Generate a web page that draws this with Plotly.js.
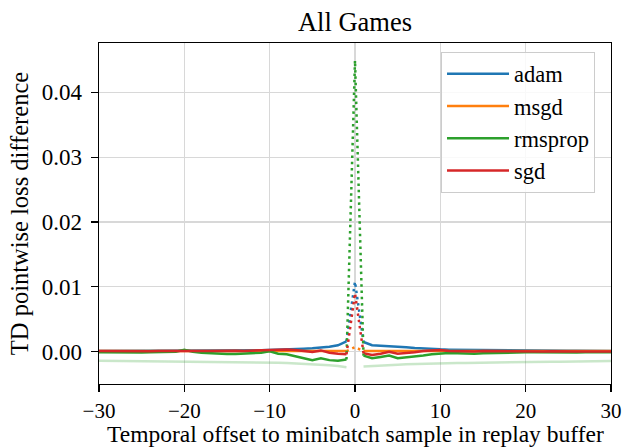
<!DOCTYPE html>
<html>
<head>
<meta charset="utf-8">
<script src="https://cdn.plot.ly/plotly-3.0.1.min.js"></script>
<style>
  html, body { margin: 0; padding: 0; background: #fff; }
  #chart { width: 624px; height: 448px; }
</style>
</head>
<body>
<div id="chart"></div>
<script>
// Temporal offsets to the minibatch sample (-30 .. 30)
const offsets = [
  -30,-29,-28,-27,-26,-25,-24,-23,-22,-21,
  -20,-19,-18,-17,-16,-15,-14,-13,-12,-11,
  -10,-9,-8,-7,-6,-5,-4,-3,-2,-1,
  0,
  1,2,3,4,5,6,7,8,9,10,
  11,12,13,14,15,16,17,18,19,20,
  21,22,23,24,25,26,27,28,29,30
];

const optimizerNames = ["adam", "msgd", "rmsprop", "sgd"];

const adam = [
  0.00012,0.00012,0.00013,0.00013,0.00014,0.00014,0.00015,0.00015,0.00016,0.00016,
  0.00017,0.00018,0.00018,0.00019,0.0002,0.0002,0.00021,0.00022,0.00023,0.00024,
  0.00026,0.00029,0.00033,0.00038,0.00045,0.00052,0.00062,0.00075,0.00098,0.0016,
  0.0108,
  0.0015,0.001,0.0009,0.00085,0.00077,0.00067,0.00057,0.00047,0.0004,0.00036,
  0.00032,0.0003,0.00028,0.00026,0.00024,0.00022,0.0002,0.00019,0.00018,0.00017,
  0.00016,0.00016,0.00015,0.00015,0.00014,0.00014,0.00013,0.00013,0.00012,0.00012
];

const msgd = [
  0.0001,0.00009,0.0001,0.00011,0.0001,0.00009,0.0001,0.00011,0.0001,0.0001,
  0.00011,0.0001,0.00009,0.0001,0.00011,0.0001,0.0001,0.00009,0.0001,0.00011,
  0.0001,0.00011,0.00012,0.0001,0.00011,0.00012,0.0001,0.00011,0.0001,0.0001,
  0.0007,
  0.0001,0.00011,0.0001,0.00012,0.00011,0.0001,0.00011,0.0001,0.00009,0.0001,
  0.00011,0.0001,0.00009,0.0001,0.0001,0.00011,0.0001,0.00009,0.0001,0.0001,
  0.00011,0.0001,0.0001,0.00009,0.0001,0.00011,0.0001,0.0001,0.00009,0.0001
];

const rmsprop = [
  -0.0001,-0.00012,-0.0001,-0.00008,-0.0001,-0.00012,-0.0001,-0.00008,-0.00005,0.0,
  0.0003,0.0,-0.00015,-0.00025,-0.0003,-0.00035,-0.00035,-0.0003,-0.00025,-0.00015,
  0.00005,-0.0003,-0.0004,-0.00065,-0.001,-0.0013,-0.001,-0.0013,-0.0014,-0.0012,
  0.0449,
  -0.0006,-0.001,-0.0008,-0.0006,-0.001,-0.0009,-0.0008,-0.0006,-0.0004,-0.00025,
  -0.0002,-0.00025,-0.0003,-0.0003,-0.00025,-0.0002,-0.00015,-0.0001,-0.00012,-0.0001,
  -0.0001,-0.00012,-0.0001,-0.00008,-0.0001,-0.00012,-0.0001,-0.00008,-0.0001,-0.0001
];

const sgd = [
  0.0001,0.00008,0.00006,0.0001,0.00012,0.0001,0.00008,0.0001,0.00012,0.0001,
  0.00012,0.00015,0.00012,0.0001,0.00015,0.00018,0.00015,0.00012,0.00015,0.00018,
  0.0002,0.00025,0.00035,0.00025,0.0001,-0.00005,0.0002,-0.00015,-0.0003,-0.0004,
  0.009,
  -0.00025,-0.0005,-0.0003,0.0,-0.0003,-0.00025,-0.0001,0.0001,0.0002,0.00025,
  0.0001,0.00005,0.0,0.00005,0.0001,0.00008,0.00005,0.0001,0.00012,0.0001,
  0.00008,0.00005,0.00008,0.0001,0.00008,0.00005,0.00003,0.00005,0.00006,0.00005
];

// Faded rmsprop baseline (no value at offset 0)
const rmspropBaseline = [
  -0.0014,-0.00141,-0.00143,-0.00143,-0.00145,-0.00146,-0.00146,-0.00148,-0.00149,-0.0015,
  -0.0015,-0.00152,-0.00153,-0.00154,-0.00154,-0.00156,-0.00157,-0.00158,-0.0016,-0.00162,
  -0.00165,-0.0017,-0.00175,-0.0018,-0.00186,-0.0019,-0.002,-0.0021,-0.0022,-0.0024,
  null,
  -0.0023,-0.0022,-0.0021,-0.00205,-0.002,-0.00195,-0.0019,-0.00187,-0.00183,-0.0018,
  -0.00178,-0.00175,-0.00173,-0.0017,-0.00168,-0.00166,-0.00165,-0.00163,-0.00161,-0.0016,
  -0.00158,-0.00157,-0.00155,-0.00153,-0.00151,-0.0015,-0.00148,-0.00146,-0.00144,-0.00142
];

const seriesValues = [adam, msgd, rmsprop, sgd];
const seriesColors = ["#1f77b4", "#ff7f0e", "#2ca02c", "#d62728"];

const FONT = "Liberation Serif";
const LW = 2.5;

// Solid part: every offset except 0; dotted part: offsets -1, 0, 1
function solidPart(vals) {
  return vals.map((v, i) => offsets[i] === 0 ? null : v);
}
function centerIdx() {
  return offsets.map((o, i) => Math.abs(o) <= 1 ? i : -1).filter(i => i >= 0);
}

const traces = [];

traces.push({
  x: offsets, y: rmspropBaseline, mode: "lines", type: "scatter",
  line: { color: "rgba(44,160,44,0.25)", width: LW },
  showlegend: false, hoverinfo: "skip", connectgaps: false
});

seriesValues.forEach((vals, k) => {
  traces.push({
    x: offsets, y: solidPart(vals), mode: "lines", type: "scatter",
    name: optimizerNames[k],
    line: { color: seriesColors[k], width: LW },
    connectgaps: false
  });
});

const idx = centerIdx();
seriesValues.forEach((vals, k) => {
  traces.push({
    x: idx.map(i => offsets[i]), y: idx.map(i => vals[i]),
    mode: "lines", type: "scatter", showlegend: false,
    line: { color: seriesColors[k], width: LW, dash: "2.5px,3.8px" }
  });
});

const layout = {
  width: 624, height: 448,
  margin: { l: 99, r: 13, t: 43, b: 64 },
  paper_bgcolor: "#fff", plot_bgcolor: "#fff",
  font: { family: FONT, size: 23, color: "#000" },
  title: {
    text: "All Games",
    font: { family: FONT, size: 26.5, color: "#000" },
    x: 0.5, xref: "paper", xanchor: "center",
    y: 0.951, yref: "container", yanchor: "middle"
  },
  xaxis: {
    range: [-30, 30], tick0: -30, dtick: 10,
    showgrid: true, gridcolor: "#d8d8d8", gridwidth: 1.2,
    zeroline: false,
    showline: true, linecolor: "#000", linewidth: 1.3, mirror: true,
    ticks: "outside", ticklen: 7, tickwidth: 1.2, tickcolor: "#000",
    tickfont: { family: FONT, size: 21 }
  },
  yaxis: {
    range: [-0.00498, 0.0476], tick0: 0, dtick: 0.01, tickformat: ".2f",
    showgrid: true, gridcolor: "#d8d8d8", gridwidth: 1.2,
    zeroline: false,
    showline: true, linecolor: "#000", linewidth: 1.3, mirror: true,
    ticks: "outside", ticklen: 7, tickwidth: 1.2, tickcolor: "#000",
    tickfont: { family: FONT, size: 23 },
    ticklabelstandoff: 4,
    title: { text: "TD pointwise loss difference",
             font: { family: FONT, size: 24.5 }, standoff: 6 }
  },
  // x-axis title placed just under the tick labels
  annotations: [{
    text: "Temporal offset to minibatch sample in replay buffer",
    xref: "paper", yref: "paper", x: 0.5, y: 0,
    xanchor: "center", yanchor: "middle", yshift: -50,
    showarrow: false, font: { family: FONT, size: 23.5, color: "#000" }
  }],
  legend: {
    x: 0.668, y: 0.975, xanchor: "left", yanchor: "top",
    bgcolor: "rgba(255,255,255,0.85)", bordercolor: "#cccccc", borderwidth: 1,
    font: { family: FONT, size: 22.5, color: "#000" },
    itemwidth: 62, tracegroupgap: 0
  },
  showlegend: true
};

Plotly.newPlot("chart", traces, layout, { staticPlot: true, displayModeBar: false });
</script>
</body>
</html>
